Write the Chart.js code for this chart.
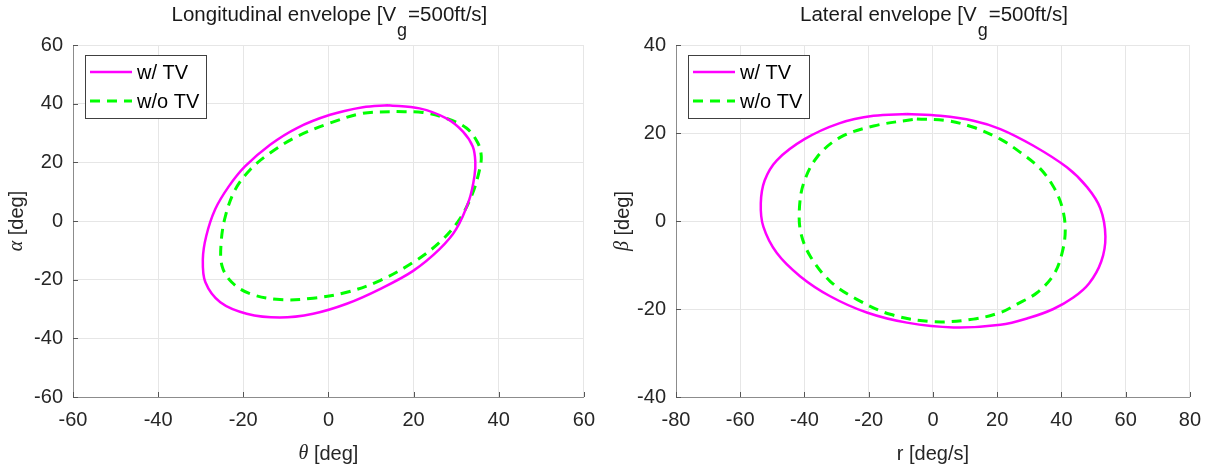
<!DOCTYPE html>
<html>
<head>
<meta charset="utf-8">
<script src="https://cdn.jsdelivr.net/npm/chart.js@4.4.1/dist/chart.umd.min.js"></script>
<style>
  html, body { margin: 0; padding: 0; background: #fff; }
  .panel { position: absolute; top: 0; width: 606px; height: 468px; }
</style>
</head>
<body>
<div class="panel" style="left:0"><canvas id="lonChart" width="606" height="468"></canvas></div>
<div class="panel" style="left:606px"><canvas id="latChart" width="606" height="468"></canvas></div>
<script>
// series names
const seriesNames = ["w/ TV", "w/o TV"];

// longitudinal envelope: theta [deg] vs alpha [deg]
const lonThetaTV   = [14.0, 21.4, 27.7, 31.6, 33.9, 34.5, 34.3, 33.1, 30.0, 26.1, 19.9, 12.1, 4.3, -3.6, -11.4, -19.2, -25.4, -28.9, -29.5, -28.7, -26.6, -23.4, -19.6, -13.7, -7.4, 0.4, 8.1, 14.0];
const lonAlphaTV   = [39.5, 38.4, 35.0, 30.5, 25.4, 20.3, 15.3, 7.4, -2.8, -9.6, -17.0, -23.2, -28.2, -31.6, -32.9, -31.6, -27.7, -20.9, -13.0, -5.1, 4.0, 11.8, 18.6, 26.0, 31.7, 36.2, 38.8, 39.5];
const lonThetaNoTV = [16.0, 22.2, 27.7, 32.4, 35.1, 35.9, 35.5, 33.9, 30.8, 26.1, 19.9, 12.1, 4.3, -3.6, -11.4, -18.4, -22.7, -25.0, -25.2, -24.2, -21.9, -18.4, -13.7, -7.4, 0.4, 8.1, 16.0];
const lonAlphaNoTV = [37.3, 37.0, 35.0, 31.7, 26.6, 22.0, 17.5, 9.6, 0.6, -7.3, -14.1, -20.3, -24.3, -26.3, -26.8, -24.8, -20.9, -15.3, -7.3, 1.7, 10.7, 17.5, 23.2, 28.8, 33.4, 36.7, 37.3];

// lateral envelope: r [deg/s] vs beta [deg]
const latRTV      = [-8.1, 2.3, 12.6, 21.0, 31.3, 41.7, 48.0, 52.1, 53.7, 52.4, 48.6, 43.7, 37.5, 30.0, 21.0, 6.4, -8.1, -20.6, -32.0, -41.3, -48.6, -52.8, -53.6, -52.4, -48.6, -40.0, -29.2, -18.5, -8.1];
const latBetaTV   = [24.3, 23.9, 22.8, 20.9, 17.1, 12.2, 7.7, 2.9, -3.5, -9.2, -14.2, -17.4, -20.0, -22.0, -23.6, -24.2, -23.1, -20.8, -17.1, -12.6, -7.3, -1.3, 4.0, 9.2, 13.8, 18.6, 22.2, 23.9, 24.3];
const latRNoTV    = [-5.0, 4.4, 12.6, 21.0, 27.2, 33.4, 37.6, 40.2, 41.2, 40.2, 37.6, 32.4, 26.2, 21.0, 12.6, 0.2, -13.3, -23.7, -32.0, -38.2, -41.1, -41.6, -40.3, -36.1, -28.9, -18.5, -5.0];
const latBetaNoTV = [23.2, 22.8, 21.3, 18.6, 15.6, 11.9, 7.7, 3.2, -2.0, -7.3, -12.2, -16.3, -18.9, -20.8, -22.3, -22.9, -21.2, -17.8, -13.7, -8.0, -2.8, 2.5, 8.5, 14.5, 19.0, 21.6, 23.2];

// tick labels
const lonTicks = [-60, -40, -20, 0, 20, 40, 60];
const latRTicks = [-80, -60, -40, -20, 0, 20, 40, 60, 80];
const latBetaTicks = [-40, -20, 0, 20, 40];

const FONT = "'Liberation Sans', Arial, Helvetica, sans-serif";
const MAGENTA = "#ff00ff";
const GREEN = "#00ff00";

function toPoints(xs, ys) {
    return xs.map((x, i) => ({ x: x, y: ys[i] }));
}

// title with subscript, axis labels with italic greek, inward ticks, legend box
const decorPlugin = {
    id: "decor",
    afterDraw(chart, args, opts) {
        const ctx = chart.ctx;
        const area = chart.chartArea;
        const cx = (area.left + area.right) / 2;
        ctx.save();
        ctx.fillStyle = "#1a1a1a";
        ctx.textBaseline = "alphabetic";
        ctx.textAlign = "left";

        // title
        const t1 = opts.title[0], t2 = "g", t3 = opts.title[1];
        ctx.font = "20.5px " + FONT;
        const w1 = ctx.measureText(t1).width, w3 = ctx.measureText(t3).width;
        ctx.font = "18px " + FONT;
        const w2 = ctx.measureText(t2).width;
        const x = cx - (w1 + w2 + w3) / 2;
        ctx.font = "20.5px " + FONT;
        ctx.fillText(t1, x, 21);
        ctx.font = "18px " + FONT;
        ctx.fillText(t2, x + w1 + 1, 36);
        ctx.font = "20.5px " + FONT;
        ctx.fillText(t3, x + w1 + w2 + 2, 21);

        drawLabel(ctx, opts.xLabel, cx, 454, 0);
        drawLabel(ctx, opts.yLabel, 17, (area.top + area.bottom) / 2, -Math.PI / 2);

        // inward tick marks
        ctx.strokeStyle = "#555";
        ctx.lineWidth = 1;
        const xs = chart.scales.x, ys = chart.scales.y;
        ctx.beginPath();
        xs.ticks.forEach(t => {
            const px = Math.round(xs.getPixelForValue(t.value)) + 0.5;
            ctx.moveTo(px, area.bottom);
            ctx.lineTo(px, area.bottom - 5);
        });
        ys.ticks.forEach(t => {
            const py = Math.round(ys.getPixelForValue(t.value)) + 0.5;
            ctx.moveTo(area.left, py);
            ctx.lineTo(area.left + 5, py);
        });
        ctx.stroke();

        // legend
        const lx = area.left + 12, ly = area.top + 10, lw = 121, lh = 63;
        ctx.fillStyle = "#fff";
        ctx.fillRect(lx, ly, lw, lh);
        ctx.strokeStyle = "#404040";
        ctx.lineWidth = 1;
        ctx.strokeRect(lx + 0.5, ly + 0.5, lw, lh);
        chart.data.datasets.forEach((ds, i) => {
            const rowY = ly + 17 + i * 29;
            ctx.strokeStyle = ds.borderColor;
            ctx.lineWidth = ds.borderWidth;
            ctx.setLineDash(ds.borderDash || []);
            ctx.beginPath();
            ctx.moveTo(lx + 5, rowY);
            ctx.lineTo(lx + 47, rowY);
            ctx.stroke();
            ctx.setLineDash([]);
            ctx.fillStyle = "#000";
            ctx.font = "20px " + FONT;
            ctx.textBaseline = "middle";
            ctx.fillText(ds.label, lx + 52, rowY + 1);
        });
        ctx.restore();
    }
};

function drawLabel(ctx, parts, x, y, rot) {
    ctx.save();
    ctx.translate(x, y);
    ctx.rotate(rot);
    ctx.textBaseline = "middle";
    ctx.textAlign = "left";
    let total = 0;
    parts.forEach(p => { ctx.font = p.font; total += ctx.measureText(p.text).width; });
    let px = -total / 2;
    ctx.fillStyle = "#262626";
    parts.forEach(p => {
        ctx.font = p.font;
        ctx.fillText(p.text, px, 0);
        px += ctx.measureText(p.text).width;
    });
    ctx.restore();
}

function makeScale(ticks, fitSize, isX) {
    return {
        type: "linear",
        min: ticks[0],
        max: ticks[ticks.length - 1],
        afterBuildTicks: (s) => { s.ticks = ticks.map(v => ({ value: v })); },
        afterFit: (s) => { if (isX) s.height = fitSize; else s.width = fitSize; },
        grid: { color: "#e6e6e6", lineWidth: 1, drawTicks: false },
        border: { color: "#8c8c8c", width: 1 },
        ticks: {
            color: "#262626",
            padding: isX ? 11 : 10,
            font: { family: FONT, size: 20 },
            maxRotation: 0,
            autoSkip: false
        }
    };
}

function makeChart(id, sets, xTicks, yTicks, yWidth, padRight, decor) {
    return new Chart(document.getElementById(id), {
        type: "scatter",
        data: {
            datasets: [
                {
                    label: seriesNames[0],
                    data: toPoints(sets[0], sets[1]),
                    showLine: true,
                    borderColor: MAGENTA,
                    borderWidth: 2.5,
                    pointRadius: 0,
                    tension: 0.35
                },
                {
                    label: seriesNames[1],
                    data: toPoints(sets[2], sets[3]),
                    showLine: true,
                    borderColor: GREEN,
                    borderWidth: 3,
                    borderDash: [10, 7],
                    pointRadius: 0,
                    tension: 0.35
                }
            ]
        },
        options: {
            responsive: false,
            animation: false,
            devicePixelRatio: 1,
            layout: { padding: { top: 45, right: padRight, bottom: 0, left: 0 } },
            scales: {
                x: makeScale(xTicks, 71, true),
                y: makeScale(yTicks, yWidth, false)
            },
            plugins: {
                legend: { display: false },
                tooltip: { enabled: false },
                decor: decor
            }
        },
        plugins: [decorPlugin]
    });
}

makeChart("lonChart",
    [lonThetaTV, lonAlphaTV, lonThetaNoTV, lonAlphaNoTV],
    lonTicks, lonTicks, 73, 21,
    {
        title: ["Longitudinal envelope [V", "=500ft/s]"],
        xLabel: [{ text: "\u03b8", font: "italic 20px 'Liberation Serif', serif" }, { text: " [deg]", font: "20px " + FONT }],
        yLabel: [{ text: "\u03b1", font: "italic 20px 'Liberation Serif', serif" }, { text: " [deg]", font: "20px " + FONT }]
    });

makeChart("latChart",
    [latRTV, latBetaTV, latRNoTV, latBetaNoTV],
    latRTicks, latBetaTicks, 70, 22,
    {
        title: ["Lateral envelope [V", "=500ft/s]"],
        xLabel: [{ text: "r [deg/s]", font: "20px " + FONT }],
        yLabel: [{ text: "\u03b2", font: "italic 20px 'Liberation Serif', serif" }, { text: " [deg]", font: "20px " + FONT }]
    });
</script>
</body>
</html>
